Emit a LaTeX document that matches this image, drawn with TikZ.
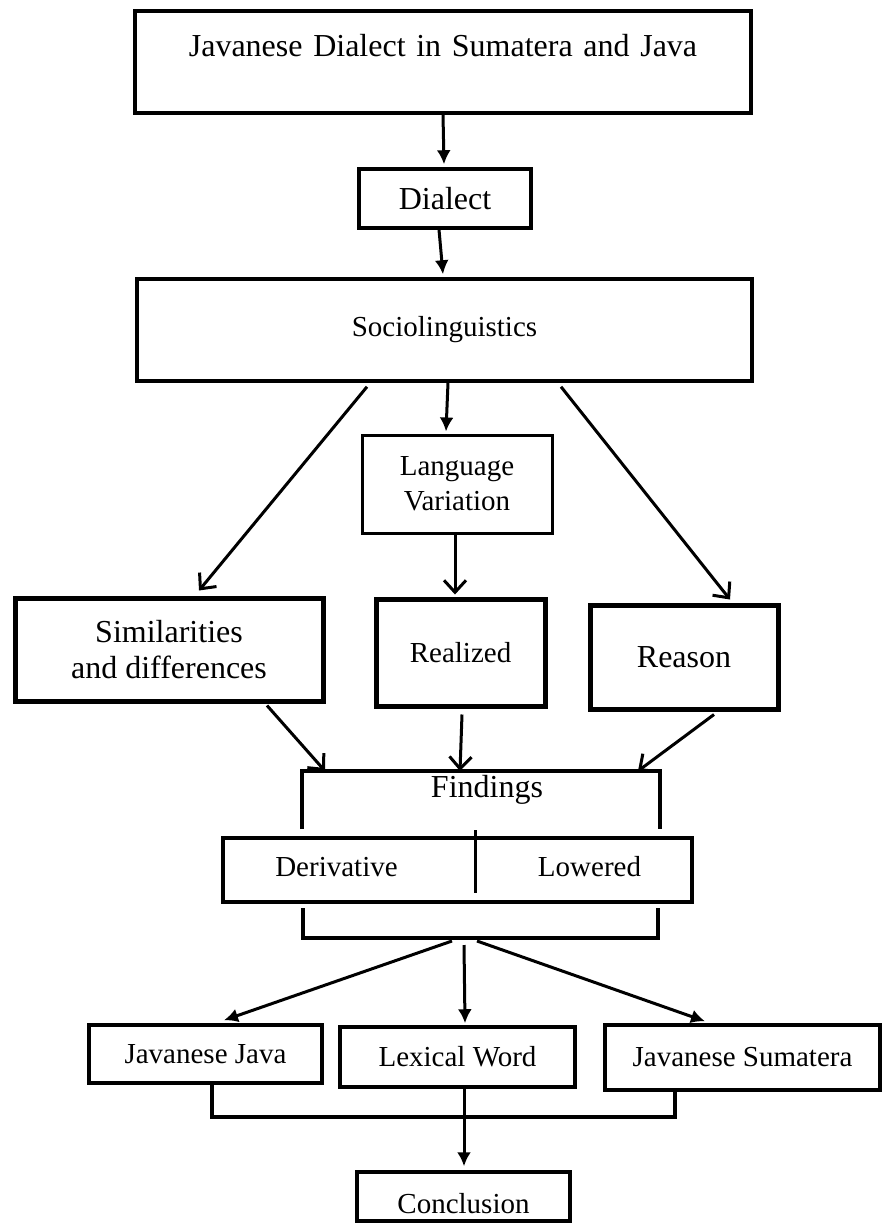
\documentclass[tikz,border=0pt]{standalone}
\usepackage{fontspec}
\setmainfont{Liberation Serif}
\usetikzlibrary{arrows.meta,calc}
\begin{document}
\begin{tikzpicture}[x=1pt,y=-1pt,
  box/.style={draw,line width=3.5pt,inner sep=0pt,align=center,font=\fontsize{29}{35}\selectfont},
  thickbox/.style={box,line width=5pt},
  thinbox/.style={box,line width=3pt},
  big/.style={font=\fontsize{32}{36}\selectfont},
  txt/.style={inner sep=0pt,font=\fontsize{29}{35}\selectfont},
  conn/.style={line width=3pt},
  fillarrow/.style={conn,-{Latex[length=14pt,width=14pt]}},
  openarrow/.style={conn,-{Straight Barb[length=12pt,width=22pt]}},
  bracket/.style={line width=3.5pt}]
\useasboundingbox (0,0) rectangle (888,1223);
\fill[white] (0,0) rectangle (888,1223);

% boxes
\node[box,big,text width=616pt,text height=46pt,text depth=56pt] (title) at (443,62) {Javanese Dialect in Sumatera and Java};
\node[box,big,minimum width=172pt,minimum height=59pt] (dialect) at (445,198.5) {Dialect};
\node[box,minimum width=615pt,minimum height=102pt] (socio) at (444.5,330) {Sociolinguistics};
\node[thinbox,minimum width=190pt,minimum height=98pt] (langvar) at (457,484) {Language\\Variation};
\node[thickbox,big,minimum width=308pt,minimum height=103pt] (sim) at (169,649.5) {Similarities\\and differences};
\node[thickbox,minimum width=169pt,minimum height=107pt] (realized) at (460.5,652.5) {Realized};
\node[thickbox,big,minimum width=188pt,minimum height=104pt] (reason) at (684,657) {Reason};

% findings bracket
\node[inner sep=0pt,big] (findings) at (487,790) {Findings};
\coordinate (f1) at (325,771);
\coordinate (f2) at (460,771);
\coordinate (f3) at (638,771);
\draw[bracket] (302,829) -- (302,771) -- (660,771) -- (660,829);

\node[box,minimum width=469pt,minimum height=64pt] (dl) at (457.5,870) {};
\node[txt] (deriv) at (336.5,867) {Derivative};
\node[txt] (lowered) at (589.5,867) {Lowered};
\draw[conn] (475,830) -- (475,893);

\coordinate (b0) at (464,938);
\draw[bracket] (303,908) -- (303,938) -- (658,938) -- (658,908);

\node[box,minimum width=233pt,minimum height=58pt] (jj) at (205.5,1054) {Javanese Java};
\node[box,minimum width=235pt,minimum height=60pt] (lw) at (457.5,1057) {Lexical Word};
\node[box,minimum width=275pt,minimum height=65pt] (js) at (742.5,1057.5) {Javanese Sumatera};

\coordinate (c1) at (212,1117);
\coordinate (c2) at (675,1117);
\draw[bracket] (212,1083) -- (c1) -- (c2) -- (675,1090);

\node[box,text width=213pt,text height=41pt,text depth=8pt] (concl) at (463.5,1196.5) {Conclusion};

% connectors
\draw[fillarrow] (title.south) -- ($(dialect.north)+(-1,-3)$);
\draw[fillarrow] ($(dialect.south)+(-6,0)$) -- ($(socio.north)+(-1.5,-3)$);
\draw[openarrow] ($(socio.south)+(-77.5,4)$) -- ($(sim.north)+(30,-5)$);
\draw[fillarrow] ($(socio.south)+(3.5,0)$) -- ($(langvar.north)+(-11,-2)$);
\draw[openarrow] ($(socio.south)+(116.5,4)$) -- ($(reason.north)+(46,-3)$);
\draw[openarrow] ($(langvar.south)+(-2,0)$) -- ($(realized.north)+(-5.5,-2)$);
\draw[openarrow] ($(sim.south)+(98,2)$) -- (f1);
\draw[openarrow] ($(realized.south)+(1.5,6)$) -- (f2);
\draw[openarrow] ($(reason.south)+(30,3)$) -- (f3);
\draw[fillarrow] ($(b0)+(-12,3)$) -- ($(jj.north)+(18.5,-3)$);
\draw[fillarrow] ($(b0)+(0,7)$) -- ($(lw.north)+(7.5,-2)$);
\draw[fillarrow] ($(b0)+(13,3)$) -- ($(js.north)+(-37.5,-2)$);
\draw[fillarrow] ($(lw.south)+(6.5,0)$) -- ($(concl.north)+(0.5,-4)$);
\end{tikzpicture}
\end{document}
